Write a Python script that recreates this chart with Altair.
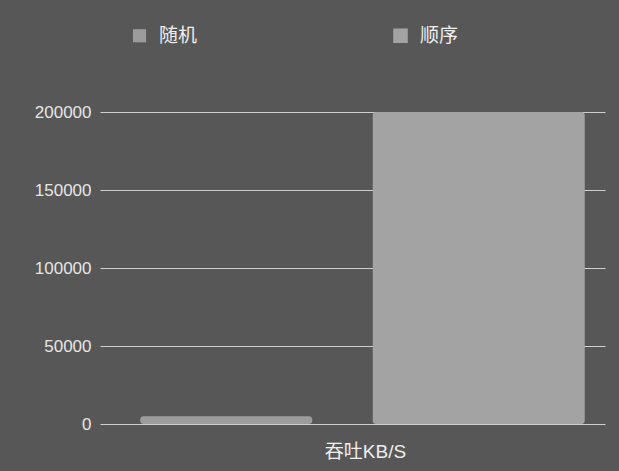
import altair as alt
import pandas as pd

series = ["随机", "顺序"]
values = [5000, 200000]
group = "吞吐KB/S"

df = pd.DataFrame({"series": series, "value": values, "group": [group] * len(series)})

FONT = "Liberation Sans, Noto Sans CJK SC"

chart = (
    alt.Chart(df)
    .mark_bar(cornerRadius=3)
    .encode(
        x=alt.X(
            "series:N",
            sort=series,
            scale=alt.Scale(paddingInner=0.0, paddingOuter=0.0, align=0.4),
            axis=alt.Axis(
                title=group,
                labels=False,
                ticks=False,
                domain=False,
                titlePadding=18,
                titleFontSize=19,
                titleFontWeight="normal",
                titleColor="#eeeeee",
                titleFont=FONT,
                titleX=265,
            ),
        ),
        y=alt.Y(
            "value:Q",
            scale=alt.Scale(domain=[0, 200000], nice=False),
            axis=alt.Axis(
                title=None,
                values=[0, 50000, 100000, 150000, 200000],
                format="d",
                ticks=False,
                domain=False,
                labelPadding=9,
                labelFontSize=17,
                labelColor="#e6e6e6",
                labelFont=FONT,
                gridColor="#cfcfcf",
                gridWidth=1,
            ),
        ),
        size=alt.Size(
            "series:N",
            sort=series,
            scale=alt.Scale(domain=series, range=[172, 212]),
            legend=None,
        ),
        color=alt.Color(
            "series:N",
            sort=series,
            scale=alt.Scale(domain=series, range=["#9c9c9c", "#a3a3a3"]),
            legend=alt.Legend(
                title=None,
                orient="none",
                direction="horizontal",
                legendX=30,
                legendY=-86,
                symbolType="square",
                symbolSize=190,
                symbolStrokeWidth=0,
                labelFontSize=19,
                labelColor="#eeeeee",
                labelFont=FONT,
                labelOffset=10,
                columnPadding=193,
            ),
        ),
    )
    .properties(
        width=505,
        height=312,
        autosize=alt.AutoSizeParams(type="none"),
        padding={"left": 100, "top": 112, "right": 14, "bottom": 47},
        background="#575757",
    )
    .configure_view(stroke=None)
)

chart.save("out.html", embed_options={"renderer": "svg", "actions": False})
